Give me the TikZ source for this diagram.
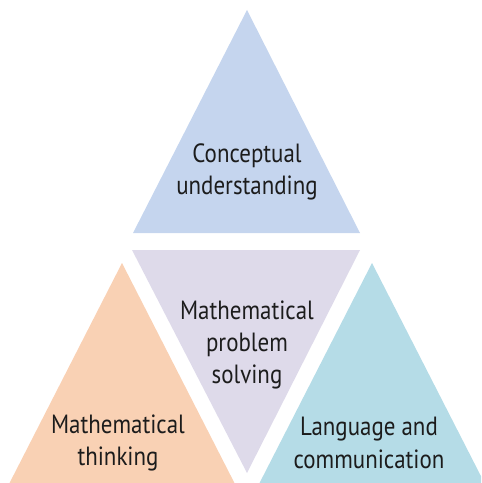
\documentclass[tikz,border=0pt]{standalone}
\usepackage{fontspec}
\setmainfont[FakeStretch=0.87]{PT Sans}
\usepackage{xcolor}
\usepackage{tikz}

\definecolor{cublue}{HTML}{C5D5EE}
\definecolor{pslilac}{HTML}{DEDAEA}
\definecolor{mtpeach}{HTML}{F9D1B4}
\definecolor{lcteal}{HTML}{B5DCE7}
\definecolor{inkgrey}{HTML}{1C1C1C}

\tikzset{
  lbl/.style={align=center,text=inkgrey,inner sep=0pt,
    font=\fontsize{15}{18.4}\selectfont}
}

\begin{document}
\begin{tikzpicture}[x=.02cm,y=-.02cm]
  \useasboundingbox (0,0) rectangle (481,483);
  \clip (0,0) rectangle (481,483);

  % four triangles
  \fill[cublue] (247,10) coordinate (cu)
  -- ++(113,223) -- ++(-227,0) -- cycle;
  \fill[pslilac] (247,473) coordinate (ps)
  -- ++(113,-223) -- ++(-228,0) -- cycle;
  \fill[mtpeach] (122,263) coordinate (mt)
  -- ++(114,223) -- ++(-228,0) -- cycle;
  \fill[lcteal] (372,263) coordinate (lc)
  -- ++(114,223) -- ++(-228,0) -- cycle;

  \draw (cu) ++(0,162) node[lbl] (cutext) {Conceptual\\understanding};
  \draw (ps) ++(0,-128) node[lbl] (pstext) {Mathematical\\problem\\solving};
  \draw (mt) ++(-4,180) node[lbl] (mttext) {Mathematical\\thinking};
  \draw (lc) ++(-3,180) node[lbl] (lctext) {Language and\\communication};
\end{tikzpicture}
\end{document}
